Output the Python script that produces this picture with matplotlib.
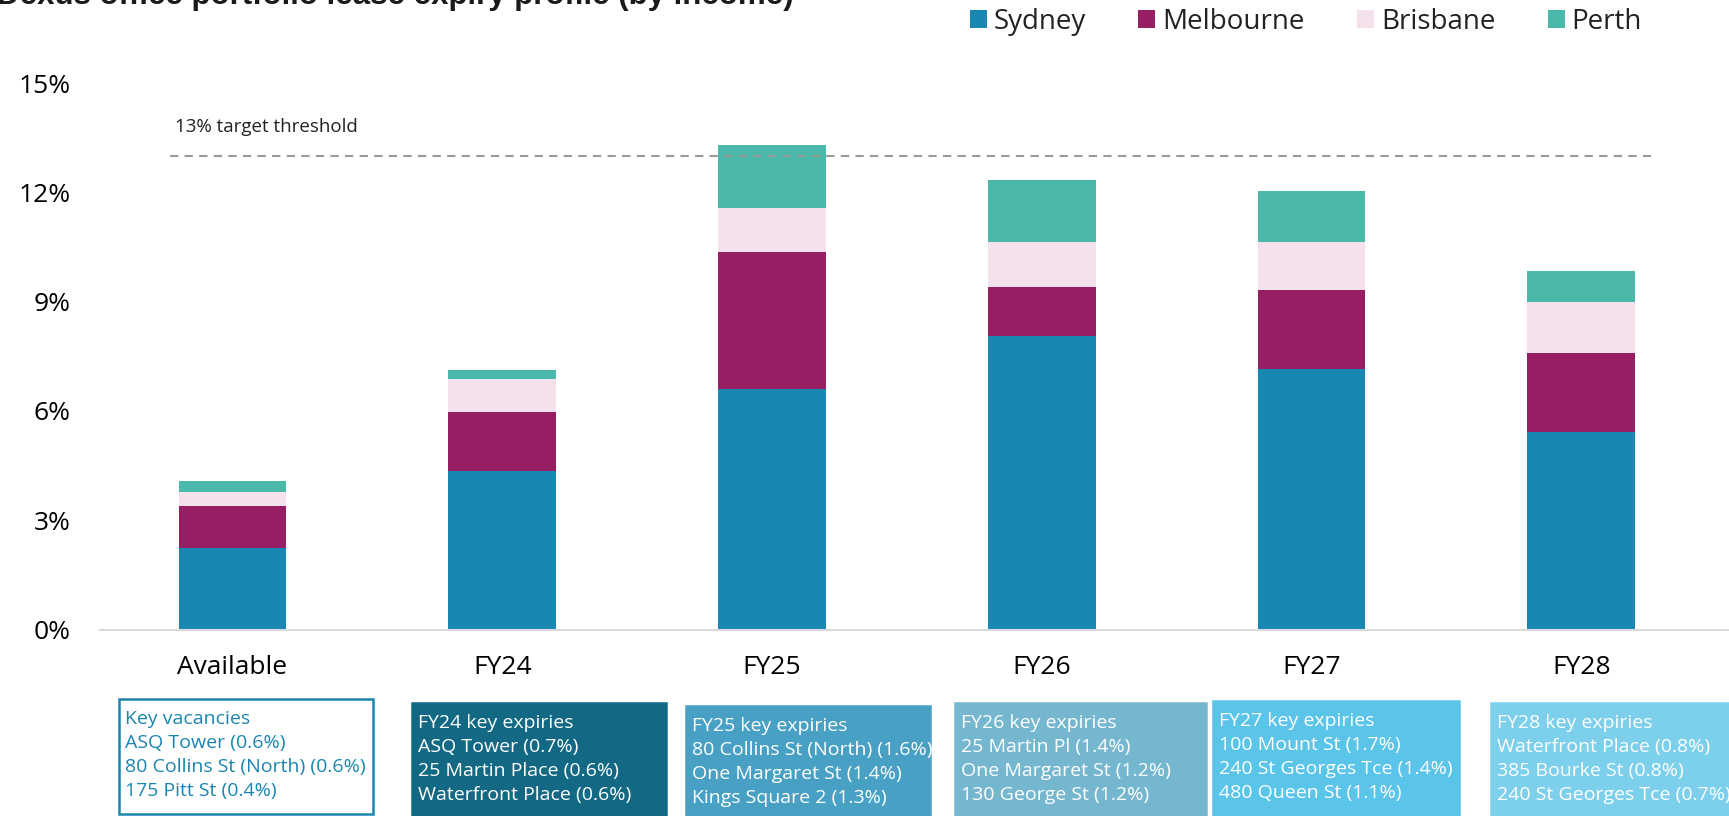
import matplotlib.pyplot as plt
from matplotlib.patches import Rectangle
from matplotlib.ticker import FuncFormatter
import numpy as np

W, H = 1729, 816

CATEGORIES = ["Available", "FY24", "FY25", "FY26", "FY27", "FY28"]
SERIES = ["Sydney", "Melbourne", "Brisbane", "Perth"]
SYDNEY = [2.24, 4.35, 6.60, 8.06, 7.14, 5.41]
MELBOURNE = [1.14, 1.63, 3.76, 1.34, 2.18, 2.19]
BRISBANE = [0.40, 0.90, 1.20, 1.24, 1.32, 1.38]
PERTH = [0.30, 0.24, 1.75, 1.70, 1.40, 0.86]
THRESHOLD = 13.0
Y_TICKS = [0, 3, 6, 9, 12, 15]

BOX_TITLES = ["Key vacancies", "FY24 key expiries", "FY25 key expiries",
              "FY26 key expiries", "FY27 key expiries", "FY28 key expiries"]
BOX_LINES = [
    ["ASQ Tower (0.6%)", "80 Collins St (North) (0.6%)", "175 Pitt St (0.4%)"],
    ["ASQ Tower (0.7%)", "25 Martin Place (0.6%)", "Waterfront Place (0.6%)"],
    ["80 Collins St (North) (1.6%)", "One Margaret St (1.4%)", "Kings Square 2 (1.3%)"],
    ["25 Martin Pl (1.4%)", "One Margaret St (1.2%)", "130 George St (1.2%)"],
    ["100 Mount St (1.7%)", "240 St Georges Tce (1.4%)", "480 Queen St (1.1%)"],
    ["Waterfront Place (0.8%)", "385 Bourke St (0.8%)", "240 St Georges Tce (0.7%)"],
]

COLORS = ["#1888B2", "#981E63", "#F5E1EB", "#4BB9A9"]
BOX_FILLS = ["white", "#136984", "#48A1C4", "#76B7D0", "#5BC4E9", "#7DD0EC"]
# box extents in pixels (left, top, right, bottom) of the 1729x816 canvas
BOX_PX = [(119, 699, 373, 814), (412, 703, 666, 818), (686, 706, 930, 818),
          (955, 703, 1206, 818), (1213, 701, 1459, 818), (1491, 703, 1745, 818)]

plt.rcParams.update({
    "font.family": ["Open Sans", "DejaVu Sans"],
    "text.color": "#222222",
})

fig = plt.figure(figsize=(W / 100, H / 100), dpi=100)
AX_LEFT = 100
ax = fig.add_axes([AX_LEFT / W, 1 - 629.5 / H, 1 - AX_LEFT / W, (629.5 - 83) / H])

x = np.arange(len(CATEGORIES))
bottom = np.zeros(len(CATEGORIES))
for name, vals, col in zip(SERIES, [SYDNEY, MELBOURNE, BRISBANE, PERTH], COLORS):
    ax.bar(x, vals, width=0.40, bottom=bottom, color=col, label=name,
           edgecolor="none")
    bottom += np.array(vals)

ax.plot([-0.23, 5.26], [THRESHOLD, THRESHOLD], color="#9A9A9A", lw=1.5,
        ls=(0, (4, 3)))
ax.text(-0.215, THRESHOLD + 0.78, "13% target threshold", fontsize=13.5,
        ha="left", va="center", color="#222222")

ax.set_xlim((AX_LEFT - 232.5) / 269.75, (W - 232.5) / 269.75)
ax.set_ylim(0, 15)
ax.set_xticks(x)
ax.set_xticklabels(CATEGORIES, fontsize=19)
ax.set_yticks(Y_TICKS)
ax.yaxis.set_major_formatter(FuncFormatter(lambda v, _: f"{v:.0f}%"))
ax.tick_params(axis="y", length=0, pad=21, labelsize=19)
ax.tick_params(axis="x", length=0, pad=18)
for s in ["top", "right", "left"]:
    ax.spines[s].set_visible(False)
ax.spines["bottom"].set_color("#D9D9D9")
ax.spines["bottom"].set_linewidth(1.5)

fig.legend(loc="center right", bbox_to_anchor=(1667 / W, 1 - 22 / H),
           ncol=4, frameon=False, fontsize=20, handlelength=0.6,
           handleheight=0.6, handletextpad=0.25, columnspacing=1.9)

fig.text(-0.002, 1 - 4 / H, "Dexus office portfolio lease expiry profile (by income)",
         fontsize=22.5, fontweight="bold", family="Liberation Sans",
         ha="left", va="baseline", color="#1A1A1A")

for i, (l, t, r, b) in enumerate(BOX_PX):
    fill = BOX_FILLS[i]
    edge = "#1A85B0" if i == 0 else fill
    tcol = "#1A85B0" if i == 0 else "white"
    fig.patches.append(Rectangle((l / W, 1 - b / H), (r - l) / W, (b - t) / H,
                                 transform=fig.transFigure, facecolor=fill,
                                 edgecolor=edge, lw=1.8, zorder=1))
    lines = [BOX_TITLES[i]] + BOX_LINES[i]
    for j, line in enumerate(lines):
        fig.text((l + 6) / W, 1 - (t + 20 + j * 24) / H, line, fontsize=14,
                 color=tcol, ha="left", va="center", zorder=2)

fig.savefig("out.png", dpi=100)
